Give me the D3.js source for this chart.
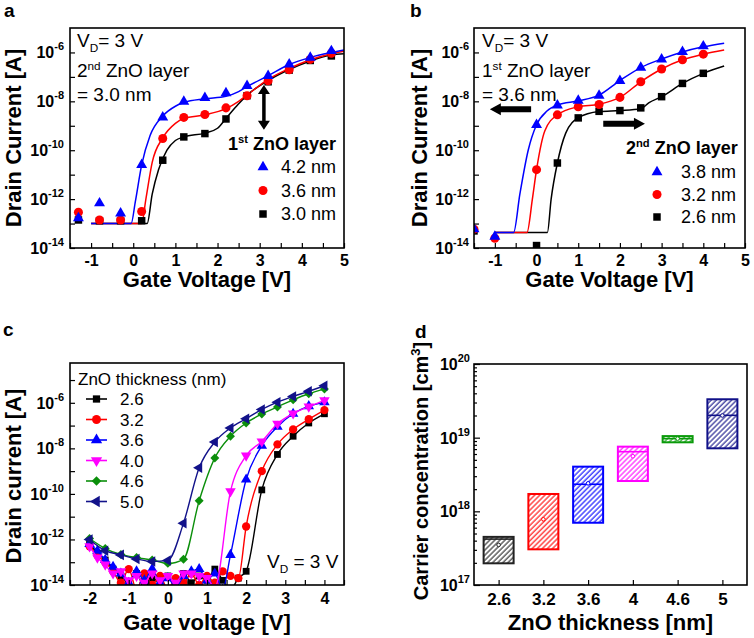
<!DOCTYPE html>
<html>
<head>
<meta charset="utf-8">
<script src="https://cdn.jsdelivr.net/npm/d3@7"></script>
<style>
  body { margin: 0; background: #fff; }
  svg { display: block; }
</style>
</head>
<body>
<svg id="fig" width="754" height="638"></svg>
<script>
// ---------- panel a : 1st ZnO layer thickness, 2nd layer = 3.0 nm ----------
const aGate = [-1.3, -0.8, -0.3, 0.2, 0.7, 1.2, 1.7, 2.2, 2.7, 3.2, 3.7, 4.2, 4.7];
const aId42 = [1.66e-13, 6.8e-13, 2.6e-13, 2.5e-11, 2.2e-9, 9.8e-9, 1.4e-8, 2.2e-8, 4.3e-8, 1.1e-7, 3.3e-7, 6.2e-7, 1.15e-6];
const aId36 = [2.9e-13, 1.4e-13, 1.4e-13, 3.1e-13, 3.0e-10, 2.2e-9, 2.9e-9, 5.4e-9, 1.7e-8, 6.9e-8, 1.95e-7, 5.2e-7, 9.3e-7];
const aId30 = [1.4e-13, 1.3e-13, 1.3e-13, 1.3e-13, 3.9e-11, 3.5e-10, 4.8e-10, 1.9e-9, 1.7e-8, 6.3e-8, 1.9e-7, 4.7e-7, 7.2e-7];
// fitted curves
const aFit42V = [-1.0, -0.05, 0.05, 0.2, 0.4, 0.7, 1.0, 1.2, 1.7, 2.2, 2.5, 2.7, 3.2, 3.7, 4.2, 4.7, 5.0];
const aFit42I = [1e-13, 1e-13, 7.9e-13, 2.5e-11, 4.0e-10, 2.5e-9, 6.3e-9, 8.9e-9, 1.26e-8, 1.6e-8, 2.5e-8, 4.0e-8, 1.12e-7, 3.2e-7, 6.3e-7, 1.0e-6, 1.26e-6];
const aFit36V = [-1.0, 0.2, 0.3, 0.45, 0.7, 1.0, 1.2, 1.7, 2.2, 2.5, 2.7, 3.2, 3.7, 4.2, 4.7, 5.0];
const aFit36I = [1e-13, 1e-13, 1.0e-12, 3.2e-11, 3.2e-10, 1.26e-9, 2.0e-9, 2.8e-9, 5.0e-9, 1.0e-8, 1.8e-8, 7.9e-8, 2.2e-7, 5.0e-7, 8.9e-7, 1.12e-6];
const aFit30V = [-1.0, 0.33, 0.45, 0.6, 0.8, 1.0, 1.2, 1.7, 2.0, 2.2, 2.5, 2.7, 3.2, 3.7, 4.2, 4.7, 5.0];
const aFit30I = [1e-13, 1e-13, 1.6e-12, 1.6e-11, 1.0e-10, 2.5e-10, 3.5e-10, 5.0e-10, 7.9e-10, 2.0e-9, 7.9e-9, 1.8e-8, 7.1e-8, 2.0e-7, 4.5e-7, 7.9e-7, 8.9e-7];
const aLegend = ["4.2 nm", "3.6 nm", "3.0 nm"];

// ---------- panel b : 2nd ZnO layer thickness, 1st layer = 3.6 nm ----------
const bGate = [-1.5, -1.0, 0, 0.5, 1.0, 1.5, 2.0, 2.5, 3.0, 3.5, 4.0];
const bId38 = [5.9e-14, 2.9e-14, 1.1e-9, 6.8e-9, 1.07e-8, 1.7e-8, 6.9e-8, 2.4e-7, 5.2e-7, 1.07e-6, 1.8e-6];
const bId32 = [5.9e-14, 2.5e-14, 1.6e-11, 2.8e-9, 6.0e-9, 7.4e-9, 1.45e-8, 6.3e-8, 2.1e-7, 5.0e-7, 8.5e-7];
const bGate26 = [-1.5, 0, 0.5, 1.0, 1.5, 2.0, 2.5, 3.0, 3.5, 4.0];
const bId26 = [5.0e-14, 1.26e-14, 3.0e-11, 2.1e-9, 3.9e-9, 4.2e-9, 5.4e-9, 1.55e-8, 5.4e-8, 1.4e-7];
const bFit38V = [-1.0, -0.55, -0.4, -0.2, 0, 0.25, 0.5, 1.0, 1.5, 2.0, 2.5, 3.0, 3.5, 4.0, 4.5];
const bFit38I = [4.3e-14, 4.3e-14, 1.6e-12, 1.0e-10, 1.1e-9, 4.0e-9, 7.1e-9, 1.05e-8, 1.8e-8, 7.1e-8, 2.4e-7, 5.4e-7, 1.05e-6, 1.7e-6, 2.4e-6];
const bFit32V = [-1.0, -0.23, -0.1, 0, 0.2, 0.5, 1.0, 1.5, 2.0, 2.5, 3.0, 3.5, 4.0, 4.5];
const bFit32I = [4.3e-14, 4.3e-14, 1.0e-12, 1.6e-11, 6.3e-10, 2.8e-9, 6.0e-9, 7.6e-9, 1.45e-8, 6.3e-8, 2.1e-7, 5.0e-7, 8.5e-7, 1.26e-6];
const bFit26V = [-1.0, 0.26, 0.35, 0.5, 0.7, 1.0, 1.5, 2.0, 2.5, 2.7, 3.0, 3.5, 4.0, 4.5];
const bFit26I = [4.3e-14, 4.3e-14, 1.0e-12, 3.0e-11, 5.0e-10, 2.1e-9, 3.8e-9, 4.2e-9, 5.0e-9, 8.9e-9, 1.55e-8, 5.4e-8, 1.4e-7, 2.8e-7];
const bLegend = ["3.8 nm", "3.2 nm", "2.6 nm"];

// ---------- panel c : single ZnO layer thickness ----------
const cGate26 = [-2, -1.8, -1.6, -1.4, -1.2, -1.0, -0.8, -0.6, -0.4, -0.2, 0, 0.2, 0.4, 0.6, 0.8, 1.0, 1.2, 1.4, 1.6, 1.8, 2.0, 2.4, 2.8, 3.2, 3.6, 4.0];
const cId26 = [6.3e-13, 2.5e-13, 1.26e-13, 5.0e-14, 2.5e-14, 1.26e-14, 3.2e-14, 7.9e-15, 2.0e-14, 1.26e-14, 2.5e-14, 7.9e-15, 3.2e-14, 1.26e-14, 2.5e-14, 1.6e-14, 5.0e-14, 1.6e-14, 6.3e-15, 2.0e-14, 4.0e-14, 1.5e-10, 5.4e-9, 3.4e-8, 1.3e-7, 3.3e-7];
const cGate32 = [-2, -1.8, -1.6, -1.4, -1.2, -1.0, -0.8, -0.6, -0.4, -0.2, 0, 0.2, 0.4, 0.6, 0.8, 1.0, 1.2, 1.4, 1.6, 1.8, 2.0, 2.4, 2.8, 3.2, 3.6, 4.0];
const cId32 = [5.0e-13, 2.0e-13, 1.0e-13, 4.0e-14, 1.26e-14, 5.0e-14, 6.3e-15, 3.2e-14, 1.0e-14, 2.5e-14, 6.3e-15, 2.0e-14, 1.26e-14, 3.2e-14, 1.0e-14, 2.5e-14, 1.26e-14, 4.0e-14, 2.5e-14, 2.0e-14, 3.7e-12, 1.0e-9, 1.5e-8, 6.8e-8, 1.9e-7, 4.8e-7];
const cGate36 = [-2, -1.8, -1.6, -1.4, -1.2, -1.0, -0.8, -0.6, -0.4, -0.2, 0, 0.2, 0.4, 0.6, 0.8, 1.0, 1.2, 1.4, 1.6, 2.0, 2.4, 2.8, 3.2, 3.6, 4.0];
const cId36 = [6.3e-13, 3.2e-13, 1.26e-13, 6.3e-14, 3.2e-14, 1.26e-14, 4.0e-14, 1.6e-14, 5.0e-14, 1.26e-14, 2.0e-14, 7.9e-15, 2.5e-14, 4.0e-14, 5.0e-14, 1.6e-14, 3.2e-14, 6.3e-15, 2.1e-13, 4.3e-10, 1.3e-8, 8.9e-8, 3.3e-7, 7.1e-7, 1.05e-6];
const cGate40 = [-2, -1.8, -1.6, -1.4, -1.2, -1.0, -0.8, -0.6, -0.4, -0.2, 0, 0.2, 0.4, 0.6, 0.8, 1.0, 1.2, 1.6, 2.0, 2.4, 2.8, 3.2, 3.6, 4.0];
const cId40 = [5.0e-13, 1.6e-13, 7.9e-14, 3.2e-14, 4.0e-14, 1.6e-14, 2.5e-14, 1.26e-14, 3.2e-14, 1.6e-14, 2.5e-14, 1.26e-14, 3.2e-14, 3.2e-14, 2.5e-14, 2.0e-14, 7.9e-15, 1.3e-10, 4.8e-9, 2.0e-8, 1.2e-7, 3.4e-7, 6.8e-7, 1.3e-6];
const cGate46 = [-2, -1.6, -1.2, -0.8, -0.4, 0, 0.4, 0.8, 1.2, 1.6, 2.0, 2.4, 2.8, 3.2, 3.6, 4.0];
const cId46 = [1.1e-12, 4.0e-13, 2.2e-13, 1.6e-13, 1.26e-13, 8.9e-14, 1.35e-13, 5.0e-11, 3.8e-9, 3.4e-8, 1.3e-7, 3.2e-7, 6.6e-7, 1.35e-6, 2.5e-6, 4.0e-6];
const cGate50 = [-2, -1.6, -1.2, -0.8, -0.4, 0, 0.4, 0.8, 1.2, 1.6, 2.0, 2.4, 2.8, 3.2, 3.6, 4.0];
const cId50 = [1.0e-12, 3.2e-13, 2.1e-13, 1.4e-13, 1.07e-13, 1.2e-13, 5.2e-12, 1.4e-9, 1.9e-8, 7.9e-8, 2.0e-7, 5.1e-7, 1.07e-6, 1.9e-6, 3.2e-6, 5.6e-6];
const cLegend = ["2.6", "3.2", "3.6", "4.0", "4.6", "5.0"];

// ---------- panel d : carrier concentration boxes ----------
const dThick = ["2.6", "3.2", "3.6", "4", "4.6", "5"];
const dLow = [1.97e17, 3.05e17, 7.0e17, 2.58e18, 8.65e18, 7.17e18];
const dHigh = [4.5e17, 1.72e18, 4.04e18, 7.55e18, 1.05e19, 3.32e19];
const dMedian = [4.2e17, 1.72e18, 2.33e18, 6.45e18, 9.7e18, 2.01e19];
const dMean = [3.5e17, 7.8e17, 2.4e18, 5.6e18, 9.7e18, 2.0e19];

// tick values
const abXTicks = d3.range(-1.5, 5.01, 0.5);
const abXLabels = [-1, 0, 1, 2, 3, 4, 5];
const cXTicks = d3.range(-2.5, 4.51, 0.5);
const cXLabels = [-2, -1, 0, 1, 2, 3, 4];
const abDecades = d3.range(-14, -5);
const abLabelled = [-14, -12, -10, -8, -6];
const cDecades = d3.range(-14, -4);
const cLabelled = [-14, -12, -10, -8, -6];
const dDecades = [17, 18, 19, 20];

const FONT = "'Liberation Sans', Arial, sans-serif";
const svg = d3.select("#fig").attr("font-family", FONT);
const defs = svg.append("defs");

const SYM = {
  up: { type: d3.symbolTriangle, rot: 0 },
  down: { type: d3.symbolTriangle, rot: 180 },
  left: { type: d3.symbolTriangle, rot: -90 },
  circle: { type: d3.symbolCircle, rot: 0 },
  square: { type: d3.symbolSquare, rot: 0 },
  diamond: { type: d3.symbolSquare, rot: 45 }
};

function addClip(id, r) {
  defs.append("clipPath").attr("id", id).append("rect")
    .attr("x", r.x0).attr("y", r.y0).attr("width", r.x1 - r.x0).attr("height", r.y1 - r.y0);
}

function frame(g, r) {
  g.append("rect").attr("x", r.x0).attr("y", r.y0)
    .attr("width", r.x1 - r.x0).attr("height", r.y1 - r.y0)
    .attr("fill", "none").attr("stroke", "#000").attr("stroke-width", 1.6);
}

function bottomAxis(g, x, r, ticks, labels, size, pad) {
  const ax = g.append("g").attr("transform", `translate(0,${r.y1})`)
    .call(d3.axisBottom(x).tickValues(ticks).tickSizeInner(-5).tickSizeOuter(0).tickPadding(pad)
      .tickFormat(d => labels.some(l => Math.abs(l - d) < 1e-9) ? String(d) : ""));
  ax.select(".domain").remove();
  ax.selectAll("line").attr("stroke", "#000").attr("stroke-width", 1.2);
  ax.selectAll("text").filter(function () { return this.textContent === ""; }).remove();
  ax.selectAll("text").attr("font-size", size).attr("font-weight", "bold")
    .attr("font-family", FONT).attr("fill", "#000");
}

function leftTicks(g, y, r, values, len) {
  const ax = g.append("g").attr("transform", `translate(${r.x0},0)`)
    .call(d3.axisLeft(y).tickValues(values).tickSizeInner(-len).tickSizeOuter(0).tickFormat(""));
  ax.select(".domain").remove();
  ax.selectAll("text").remove();
  ax.selectAll("line").attr("stroke", "#000").attr("stroke-width", 1.2);
}

function powLabels(g, y, xRight, exps) {
  exps.forEach(e => {
    const t = g.append("text").attr("x", xRight).attr("y", y(Math.pow(10, e)) + 6)
      .attr("text-anchor", "end").attr("font-weight", "bold");
    t.append("tspan").attr("font-size", 16).text("10");
    t.append("tspan").attr("font-size", 11).attr("dy", -8).text(String(e));
  });
}

// parts: [text, "sub"|"sup"|undefined]
function rich(g, x, y, parts, size, weight) {
  const t = g.append("text").attr("x", x).attr("y", y).attr("font-size", size)
    .attr("font-weight", weight || "normal");
  let shift = 0;
  parts.forEach(([s, kind]) => {
    const want = kind === "sub" ? 5 : kind === "sup" ? -7 : 0;
    const sp = t.append("tspan").attr("dy", want - shift).text(s);
    if (kind) sp.attr("font-size", size * 0.62);
    shift = want;
  });
  return t;
}

function yLabel(g, x, y, txt, size) {
  g.append("text").attr("transform", `translate(${x},${y}) rotate(-90)`)
    .attr("text-anchor", "middle").attr("font-size", size).attr("font-weight", "bold").text(txt);
}

function markers(g, pts, x, y, sym, size, color) {
  g.append("g").selectAll("path").data(pts).join("path")
    .attr("d", d3.symbol(sym.type, size))
    .attr("transform", d => `translate(${x(d[0])},${y(d[1])}) rotate(${sym.rot})`)
    .attr("fill", color);
}

function curve(g, pts, x, y, color, w) {
  g.append("path").datum(pts)
    .attr("d", d3.line().x(d => x(d[0])).y(d => y(d[1])).curve(d3.curveMonotoneX))
    .attr("fill", "none").attr("stroke", color).attr("stroke-width", w);
}

// horizontal arrow from tail x0 to head x1
function hArrow(g, x0, x1, yc, sh, hw, hl) {
  const s = Math.sign(x1 - x0), xb = x1 - s * hl;
  const p = d3.path();
  p.moveTo(x0, yc - sh / 2); p.lineTo(xb, yc - sh / 2); p.lineTo(xb, yc - hw / 2);
  p.lineTo(x1, yc); p.lineTo(xb, yc + hw / 2); p.lineTo(xb, yc + sh / 2);
  p.lineTo(x0, yc + sh / 2); p.closePath();
  g.append("path").attr("d", p.toString()).attr("fill", "#000");
}

function vDoubleArrow(g, xc, y0, y1, sw, hw, hl) {
  const p = d3.path();
  p.moveTo(xc, y0); p.lineTo(xc + hw / 2, y0 + hl); p.lineTo(xc + sw / 2, y0 + hl);
  p.lineTo(xc + sw / 2, y1 - hl); p.lineTo(xc + hw / 2, y1 - hl); p.lineTo(xc, y1);
  p.lineTo(xc - hw / 2, y1 - hl); p.lineTo(xc - sw / 2, y1 - hl); p.lineTo(xc - sw / 2, y0 + hl);
  p.lineTo(xc - hw / 2, y0 + hl); p.closePath();
  g.append("path").attr("d", p.toString()).attr("fill", "#000");
}

const zip = (a, b) => a.map((v, i) => [v, b[i]]);

// panel letters
[["a", 4, 17], ["b", 410, 17], ["c", 3, 336], ["d", 415, 338]].forEach(([s, x, y]) =>
  svg.append("text").attr("x", x).attr("y", y).attr("font-size", 19).attr("font-weight", "bold").text(s));

// =========================== PANEL A ===========================
{
  const r = { x0: 70, x1: 344, y0: 28, y1: 248 };
  const g = svg.append("g");
  const x = d3.scaleLinear().domain([-1.5, 5]).range([r.x0, r.x1]);
  const y = d3.scaleLog().domain([1e-14, 1e-5]).range([r.y1, r.y0]);
  addClip("clipA", r);
  const pg = g.append("g").attr("clip-path", "url(#clipA)");
  curve(pg, zip(aFit30V, aFit30I), x, y, "#000", 1.5);
  curve(pg, zip(aFit36V, aFit36I), x, y, "#ff0000", 1.5);
  curve(pg, zip(aFit42V, aFit42I), x, y, "#0000ff", 1.5);
  markers(pg, zip(aGate, aId30), x, y, SYM.square, 56, "#000");
  markers(pg, zip(aGate, aId36), x, y, SYM.circle, 64, "#ff0000");
  markers(pg, zip(aGate, aId42), x, y, SYM.up, 52, "#0000ff");
  frame(g, r);
  bottomAxis(g, x, r, abXTicks, abXLabels, 16, 7);
  leftTicks(g, y, r, abDecades.map(e => Math.pow(10, e)), 5);
  powLabels(g, y, 64, abLabelled);
  g.append("text").attr("x", (r.x0 + r.x1) / 2).attr("y", 287).attr("text-anchor", "middle")
    .attr("font-size", 22).attr("font-weight", "bold").text("Gate Voltage [V]");
  yLabel(g, 21, (r.y0 + r.y1) / 2, "Drain Current [A]", 22);

  rich(g, 77, 47, [["V"], ["D", "sub"], ["= 3 V"]], 19);
  rich(g, 77, 77, [["2"], ["nd", "sup"], [" ZnO layer"]], 19);
  rich(g, 77, 101, [["= 3.0 nm"]], 19);

  vDoubleArrow(g, x(3.1), y(4.7e-8), y(6.8e-10), 3.5, 12, 9);

  rich(g, 228, 150, [["1"], ["st", "sup"], [" ZnO layer"]], 18, "bold");
  const syms = [[SYM.up, 52, "#0000ff"], [SYM.circle, 64, "#ff0000"], [SYM.square, 56, "#000"]];
  aLegend.forEach((lab, i) => {
    const by = 173 + i * 23.5;
    const [s, sz, c] = syms[i];
    g.append("path").attr("d", d3.symbol(s.type, sz)).attr("fill", c)
      .attr("transform", `translate(263,${by - 6}) rotate(${s.rot})`);
    g.append("text").attr("x", 281).attr("y", by).attr("font-size", 18).text(lab);
  });
}

// =========================== PANEL B ===========================
{
  const r = { x0: 474, x1: 745, y0: 28, y1: 248 };
  const g = svg.append("g");
  const x = d3.scaleLinear().domain([-1.5, 5]).range([r.x0, r.x1]);
  const y = d3.scaleLog().domain([1e-14, 1e-5]).range([r.y1, r.y0]);
  addClip("clipB", r);
  const pg = g.append("g").attr("clip-path", "url(#clipB)");
  curve(pg, zip(bFit26V, bFit26I), x, y, "#000", 1.5);
  curve(pg, zip(bFit32V, bFit32I), x, y, "#ff0000", 1.5);
  curve(pg, zip(bFit38V, bFit38I), x, y, "#0000ff", 1.5);
  markers(pg, zip(bGate26, bId26), x, y, SYM.square, 56, "#000");
  markers(pg, zip(bGate, bId32), x, y, SYM.circle, 64, "#ff0000");
  markers(pg, zip(bGate, bId38), x, y, SYM.up, 52, "#0000ff");
  frame(g, r);
  bottomAxis(g, x, r, abXTicks, abXLabels, 16, 7);
  leftTicks(g, y, r, abDecades.map(e => Math.pow(10, e)), 5);
  powLabels(g, y, 469, abLabelled);
  g.append("text").attr("x", (r.x0 + r.x1) / 2).attr("y", 287).attr("text-anchor", "middle")
    .attr("font-size", 22).attr("font-weight", "bold").text("Gate Voltage [V]");
  yLabel(g, 427, (r.y0 + r.y1) / 2, "Drain Current [A]", 22);

  rich(g, 482, 47, [["V"], ["D", "sub"], ["= 3 V"]], 19);
  rich(g, 482, 77, [["1"], ["st", "sup"], [" ZnO layer"]], 19);
  rich(g, 482, 101, [["= 3.6 nm"]], 19);

  hArrow(g, x(-0.13), x(-1.12), y(4.7e-9), 6, 12, 11);
  hArrow(g, x(1.6), x(2.6), y(1.2e-9), 6, 12, 11);

  rich(g, 626, 154, [["2"], ["nd", "sup"], [" ZnO layer"]], 18, "bold");
  const syms = [[SYM.up, 52, "#0000ff"], [SYM.circle, 64, "#ff0000"], [SYM.square, 56, "#000"]];
  bLegend.forEach((lab, i) => {
    const by = 178 + i * 22.5;
    const [s, sz, c] = syms[i];
    g.append("path").attr("d", d3.symbol(s.type, sz)).attr("fill", c)
      .attr("transform", `translate(657,${by - 6}) rotate(${s.rot})`);
    g.append("text").attr("x", 681).attr("y", by).attr("font-size", 18).text(lab);
  });
}

// =========================== PANEL C ===========================
{
  const r = { x0: 70, x1: 344, y0: 363, y1: 585 };
  const g = svg.append("g");
  const x = d3.scaleLinear().domain([-2.5, 4.5]).range([r.x0, r.x1]);
  const y = d3.scaleLog().domain([1e-14, 5.6e-5]).range([r.y1, r.y0]);
  addClip("clipC", r);
  const pg = g.append("g").attr("clip-path", "url(#clipC)");
  const series = [
    [cGate26, cId26, "#000000", SYM.square, 46],
    [cGate32, cId32, "#ff0000", SYM.circle, 54],
    [cGate36, cId36, "#0000ff", SYM.up, 48],
    [cGate40, cId40, "#ff00ff", SYM.down, 48],
    [cGate46, cId46, "#0b8f0b", SYM.diamond, 40],
    [cGate50, cId50, "#12128a", SYM.left, 48]
  ];
  series.forEach(([v, i, c, s, sz]) => {
    curve(pg, zip(v, i), x, y, c, 1.4);
    markers(pg, zip(v, i), x, y, s, sz, c);
  });
  frame(g, r);
  bottomAxis(g, x, r, cXTicks, cXLabels, 16, 8);
  leftTicks(g, y, r, cDecades.map(e => Math.pow(10, e)), 5);
  powLabels(g, y, 64, cLabelled);
  g.append("text").attr("x", (r.x0 + r.x1) / 2).attr("y", 630).attr("text-anchor", "middle")
    .attr("font-size", 22).attr("font-weight", "bold").text("Gate voltage [V]");
  yLabel(g, 21, 476, "Drain current [A]", 22);

  g.append("text").attr("x", 78).attr("y", 385).attr("font-size", 17).text("ZnO thickness (nm)");
  cLegend.forEach((lab, k) => {
    const by = 405 + k * 20.5;
    const [, , c, s, sz] = series[k];
    g.append("line").attr("x1", 86).attr("x2", 107).attr("y1", by - 6).attr("y2", by - 6)
      .attr("stroke", c).attr("stroke-width", 1.6);
    g.append("path").attr("d", d3.symbol(s.type, sz * 1.15)).attr("fill", c)
      .attr("transform", `translate(96.5,${by - 6}) rotate(${s.rot})`);
    g.append("text").attr("x", 120).attr("y", by).attr("font-size", 17).text(lab);
  });
  rich(g, 267, 568, [["V"], ["D", "sub"], [" = 3 V"]], 19);
}

// =========================== PANEL D ===========================
{
  const r = { x0: 474, x1: 747, y0: 364, y1: 585 };
  const g = svg.append("g");
  const x = d3.scalePoint().domain(dThick).range([r.x0, r.x1]).padding(0.55);
  const y = d3.scaleLog().domain([1e17, 1e20]).range([r.y1, r.y0]);
  const colors = ["#222222", "#ff0000", "#0000ff", "#ff00ff", "#0a9a0a", "#101088"];
  colors.forEach((c, i) => {
    const p = defs.append("pattern").attr("id", "hatch" + i).attr("patternUnits", "userSpaceOnUse")
      .attr("width", 3.6).attr("height", 3.6).attr("patternTransform", "rotate(45)");
    p.append("rect").attr("width", 3.6).attr("height", 3.6).attr("fill", "#fff");
    p.append("line").attr("x1", 1).attr("x2", 1).attr("y1", 0).attr("y2", 3.6)
      .attr("stroke", c).attr("stroke-width", 1.1);
  });
  const bw = 30;
  dThick.forEach((t, i) => {
    const cx = x(t), c = colors[i];
    g.append("rect").attr("x", cx - bw / 2).attr("y", y(dHigh[i]))
      .attr("width", bw).attr("height", y(dLow[i]) - y(dHigh[i]))
      .attr("fill", `url(#hatch${i})`).attr("stroke", c).attr("stroke-width", 2);
    g.append("line").attr("x1", cx - bw / 2).attr("x2", cx + bw / 2)
      .attr("y1", y(dMedian[i])).attr("y2", y(dMedian[i])).attr("stroke", c).attr("stroke-width", 1.6);
    g.append("circle").attr("cx", cx).attr("cy", y(dMean[i])).attr("r", 1.8)
      .attr("fill", "#fff").attr("stroke", c).attr("stroke-width", 1);
  });
  frame(g, r);
  bottomAxis(g, x, r, dThick, dThick.map(Number), 17, 8);
  const minors = [];
  [17, 18, 19].forEach(e => d3.range(2, 10).forEach(k => minors.push(k * Math.pow(10, e))));
  leftTicks(g, y, r, minors, 3);
  leftTicks(g, y, r, dDecades.map(e => Math.pow(10, e)), 6);
  powLabels(g, y, 470, dDecades);
  g.append("text").attr("x", (r.x0 + r.x1) / 2).attr("y", 630).attr("text-anchor", "middle")
    .attr("font-size", 22).attr("font-weight", "bold").text("ZnO thickness [nm]");
  const t = g.append("text").attr("transform", `translate(428,471) rotate(-90)`)
    .attr("text-anchor", "middle").attr("font-size", 20).attr("font-weight", "bold");
  t.append("tspan").text("Carrier concentration [cm");
  t.append("tspan").attr("font-size", 13).attr("dy", -8).text("3");
  t.append("tspan").attr("dy", 8).text("]");
}
</script>
</body>
</html>
